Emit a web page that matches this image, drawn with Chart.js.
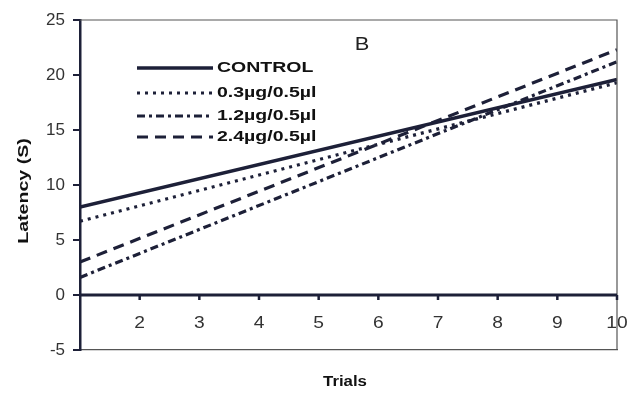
<!DOCTYPE html>
<html>
<head>
<meta charset="utf-8">
<script src="https://cdn.jsdelivr.net/npm/chart.js@4.4.0/dist/chart.umd.min.js"></script>
<style>
  html, body { margin: 0; padding: 0; background: #fff; }
  #wrap { width: 631px; height: 394px; }
</style>
</head>
<body>
<div id="wrap"><canvas id="chart" width="631" height="394"></canvas></div>
<script>
// trial numbers at the ends of each fitted line
const trials = [1, 10];

// latency (s)
const control = [8.0, 19.6];
const dose03 = [6.7, 19.3];
const dose12 = [1.6, 21.2];
const dose24 = [3.0, 22.3];

const seriesNames = ['CONTROL', '0.3\u00b5g/0.5\u00b5l', '1.2\u00b5g/0.5\u00b5l', '2.4\u00b5g/0.5\u00b5l'];
const xTickLabels = [2, 3, 4, 5, 6, 7, 8, 9, 10];

const ink = '#1d2038';
const font = '"Liberation Sans", Arial, sans-serif';

function pts(vals) {
  return vals.map((v, i) => ({ x: trials[i], y: v }));
}

const datasets = [
  { label: seriesNames[0], data: pts(control), borderColor: ink, borderWidth: 3.5, borderDash: [] },
  { label: seriesNames[1], data: pts(dose03), borderColor: ink, borderWidth: 3.2, borderDash: [3, 5] },
  { label: seriesNames[2], data: pts(dose12), borderColor: ink, borderWidth: 3.2, borderDash: [8, 4, 3, 4] },
  { label: seriesNames[3], data: pts(dose24), borderColor: ink, borderWidth: 3.2, borderDash: [11, 7] }
];
datasets.forEach(d => { d.pointRadius = 0; d.fill = false; d.tension = 0; });

// stretched text, the scan is wider than tall
function wideText(ctx, txt, x, y, size, bold, align, sx) {
  ctx.save();
  ctx.translate(x, y);
  ctx.scale(sx, 1);
  ctx.font = (bold ? 'bold ' : '') + size + 'px ' + font;
  ctx.textAlign = align;
  ctx.textBaseline = 'middle';
  ctx.fillText(txt, 0, 0);
  ctx.restore();
}

const extras = {
  id: 'extras',
  afterDatasetsDraw(chart) {
    const ctx = chart.ctx;
    const xs = chart.scales.x, ys = chart.scales.y;
    const a = chart.chartArea;

    // frame top and right
    ctx.save();
    ctx.strokeStyle = '#555';
    ctx.lineWidth = 1.2;
    ctx.beginPath();
    ctx.moveTo(a.left, a.top);
    ctx.lineTo(a.right, a.top);
    ctx.lineTo(a.right, a.bottom);
    ctx.stroke();

    // zero line with its ticks
    const y0 = ys.getPixelForValue(0);
    ctx.strokeStyle = ink;
    ctx.lineWidth = 3;
    ctx.beginPath();
    ctx.moveTo(a.left, y0);
    ctx.lineTo(a.right, y0);
    ctx.stroke();
    ctx.lineWidth = 2.5;
    xTickLabels.forEach(t => {
      const px = xs.getPixelForValue(t);
      ctx.beginPath();
      ctx.moveTo(px, y0);
      ctx.lineTo(px, y0 + 5);
      ctx.stroke();
    });

    // x tick labels sit inside the frame
    ctx.fillStyle = '#333';
    xTickLabels.forEach(t => {
      wideText(ctx, String(t), xs.getPixelForValue(t), y0 + 29, 16, false, 'center', 1.2);
    });

    // panel letter
    ctx.fillStyle = '#222';
    wideText(ctx, 'B', 362, 45, 19, false, 'center', 1.15);

    // legend
    const rows = [68, 93, 116, 137];
    chart.data.datasets.forEach((d, i) => {
      ctx.strokeStyle = ink;
      ctx.lineWidth = d.borderWidth;
      ctx.setLineDash(d.borderDash);
      ctx.beginPath();
      ctx.moveTo(137, rows[i]);
      ctx.lineTo(213, rows[i]);
      ctx.stroke();
      ctx.setLineDash([]);
      ctx.fillStyle = '#111';
      wideText(ctx, d.label, 217, rows[i], 15, true, 'left', 1.3);
    });

    // axis titles
    ctx.fillStyle = '#111';
    wideText(ctx, 'Trials', 345, 382, 14, true, 'center', 1.2);
    ctx.save();
    ctx.translate(24, 191);
    ctx.rotate(-Math.PI / 2);
    wideText(ctx, 'Latency (S)', 0, 0, 14, true, 'center', 1.4);
    ctx.restore();
    ctx.restore();
  }
};

new Chart(document.getElementById('chart'), {
  type: 'line',
  data: { datasets: datasets },
  options: {
    responsive: false,
    animation: false,
    layout: { padding: { left: 0, top: 20, right: 14, bottom: 0 } },
    plugins: { legend: { display: false }, tooltip: { enabled: false } },
    scales: {
      x: {
        type: 'linear',
        min: 1,
        max: 10,
        ticks: { display: false },
        grid: { display: false },
        border: { display: true, color: '#555', width: 1.2 },
        afterFit(scale) { scale.height = 44; }
      },
      y: {
        min: -5,
        max: 25,
        ticks: { stepSize: 5, color: '#333', padding: 8, font: { family: font, size: 17 } },
        grid: { drawOnChartArea: false, drawTicks: true, tickLength: 7, color: ink, lineWidth: 2 },
        border: { display: true, color: ink, width: 2.5 },
        afterFit(scale) { scale.width = 80; }
      }
    }
  },
  plugins: [extras]
});
</script>
</body>
</html>
